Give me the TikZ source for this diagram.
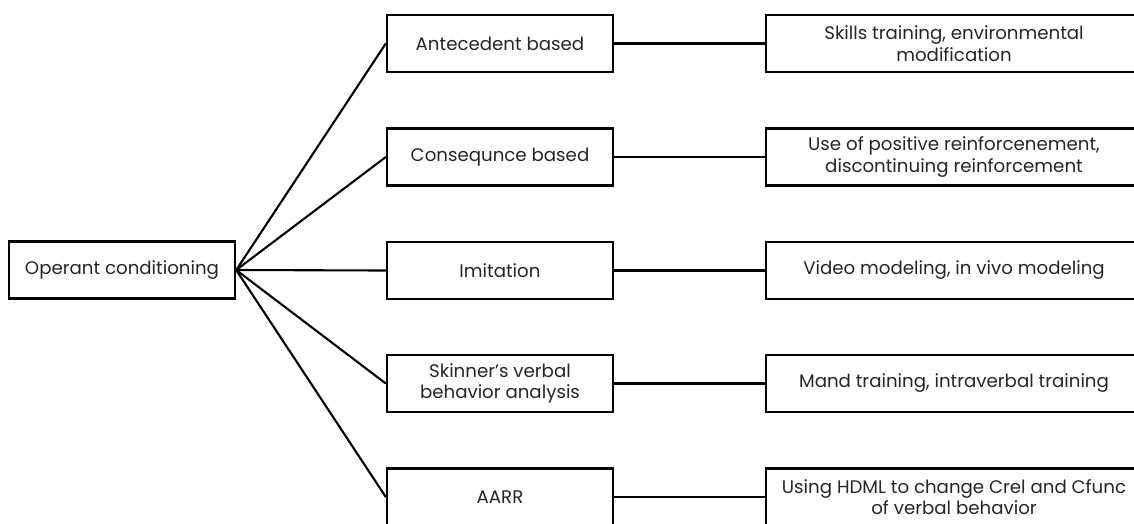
\documentclass[tikz,border=0pt]{standalone}
\usepackage{fontspec}
\setmainfont{Poppins}
\begin{document}
\begin{tikzpicture}[x=1pt,y=-1pt,
  box/.style={draw=black, line width=2.4pt, fill=white, align=center, inner sep=0pt,
    minimum height=57pt, font=\fontsize{18.2}{21.5}\selectfont, text=black!85},
  leftbox/.style={box, minimum width=226pt},
  midbox/.style={box, minimum width=226pt},
  rightbox/.style={box, minimum width=376pt},
  link/.style={draw=black, line width=2.1pt}]
\useasboundingbox (0,0) rectangle (1134,523);
\clip (0,0) rectangle (1134,523);
\fill[white] (0,0) rectangle (1134,523);
\node[leftbox] (oc) at (122,270) {Operant conditioning};
\node[midbox] (m1) at (500,43.5) {Antecedent based};
\node[midbox] (m2) at (500,157) {Consequnce based};
\node[midbox] (m3) at (500,270.5) {Imitation};
\node[midbox] (m4) at (500,383.5) {Skinner’s verbal\\behavior analysis};
\node[midbox] (m5) at (500,497) {AARR};
\node[rightbox] (r1) at (954,43.5) {Skills training, environmental\\modification};
\node[rightbox] (r2) at (954,157) {Use of positive reinforcenement,\\discontinuing reinforcement};
\node[rightbox] (r3) at (954,270.5) {Video modeling, in vivo modeling};
\node[rightbox] (r4) at (954,383.5) {Mand training, intraverbal training};
\node[rightbox] (r5) at (954,497) {Using HDML to change Crel and Cfunc\\of verbal behavior};
\foreach \i in {1,...,5} {
  \draw[link] (oc.east) -- (m\i.west);
  \draw[link] (m\i.east) -- (r\i.west);
}
\end{tikzpicture}
\end{document}
